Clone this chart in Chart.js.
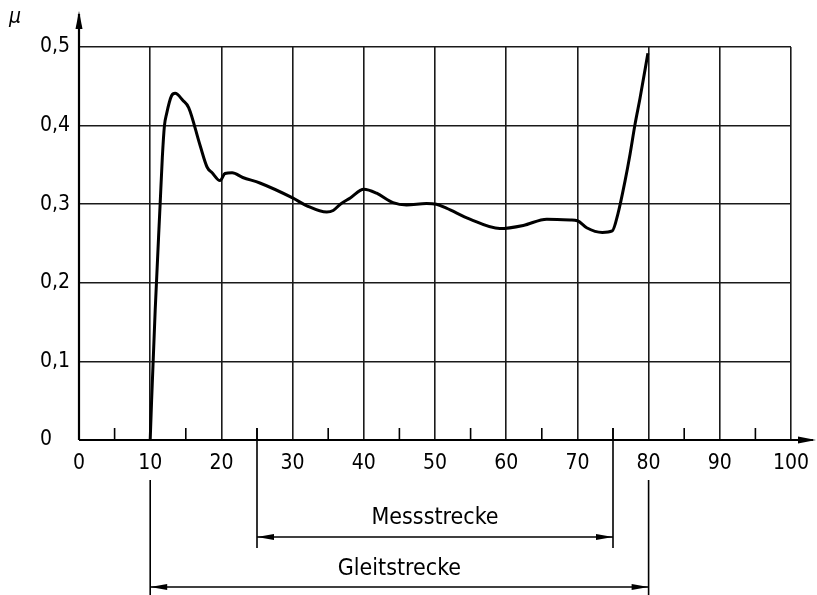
<!DOCTYPE html>
<html>
<head>
<meta charset="utf-8">
<script src="https://cdn.jsdelivr.net/npm/chart.js@4"></script>
<style>
  html, body { margin: 0; background: #fff; }
  #wrap { width: 817px; height: 595px; }
</style>
</head>
<body>
<div id="wrap"><canvas id="muChart"></canvas></div>
<script>
// Gleitweg (x) und Reibungszahl mu (y)
const slipX = [10, 10.2, 10.7, 11.4, 11.7, 12.0, 12.3, 13.0, 13.5, 14.6, 15.4, 17.0, 18.0, 18.7, 19.8, 20.5, 21.5, 23.0, 25.4, 30.0, 32.0, 34.8, 35.7, 36.7, 38.1, 40.0, 41.8, 44.1, 46.0, 48.8, 50.2, 51.6, 54.9, 59.1, 62.4, 65.7, 69.0, 70.0, 71.3, 73.5, 74.9, 75.7, 76.7, 77.4, 78.1, 78.8, 79.9];
const muValues = [0, 0.051, 0.165, 0.301, 0.359, 0.400, 0.415, 0.438, 0.441, 0.432, 0.423, 0.375, 0.347, 0.340, 0.330, 0.339, 0.340, 0.334, 0.327, 0.308, 0.298, 0.290, 0.292, 0.300, 0.308, 0.319, 0.314, 0.302, 0.299, 0.301, 0.300, 0.295, 0.281, 0.269, 0.273, 0.281, 0.280, 0.279, 0.270, 0.264, 0.266, 0.288, 0.330, 0.364, 0.402, 0.435, 0.492];

const xTicks = [0, 10, 20, 30, 40, 50, 60, 70, 80, 90, 100];
const xMinorTicks = [5, 15, 25, 35, 45, 55, 65, 75, 85, 95];
const yTicks = [0, 0.1, 0.2, 0.3, 0.4, 0.5];

// Bemaßungen unter der x-Achse
const dimLabels = ['Messstrecke', 'Gleitstrecke'];
const dimFrom = [25, 10];
const dimTo = [75, 80];

const FONT = '"DejaVu Sans Condensed", "DejaVu Sans", sans-serif';
const INK = '#000';
const GRID = '#1a1a1a';

function arrowHead(ctx, x, y, dx, dy, len, half) {
  // Spitze bei (x,y), Richtung (dx,dy)
  const px = -dy, py = dx;
  ctx.beginPath();
  ctx.moveTo(x, y);
  ctx.lineTo(x - dx * len + px * half, y - dy * len + py * half);
  ctx.lineTo(x - dx * len - px * half, y - dy * len - py * half);
  ctx.closePath();
  ctx.fill();
}

const drawingExtras = {
  id: 'drawingExtras',
  afterDraw(chart) {
    const ctx = chart.ctx;
    const xs = chart.scales.x, ys = chart.scales.y;
    const x0 = xs.getPixelForValue(0);
    const y0 = ys.getPixelForValue(0);
    ctx.save();
    ctx.strokeStyle = INK;
    ctx.fillStyle = INK;

    // Achsen mit Pfeilen
    ctx.lineWidth = 2.2;
    ctx.beginPath();
    ctx.moveTo(x0, y0);
    ctx.lineTo(x0, 14);
    ctx.moveTo(x0, y0);
    ctx.lineTo(chart.width - 4, y0);
    ctx.stroke();
    arrowHead(ctx, x0, 11, 0, -1, 18, 3.5);
    arrowHead(ctx, chart.width - 1, y0, 1, 0, 18, 3.5);

    // Zwischenstriche
    ctx.lineWidth = 1.6;
    ctx.beginPath();
    xMinorTicks.forEach(v => {
      const px = xs.getPixelForValue(v);
      ctx.moveTo(px, y0);
      ctx.lineTo(px, y0 - 12);
    });
    ctx.stroke();

    // mu
    ctx.font = 'italic 21px ' + FONT;
    ctx.textAlign = 'center';
    ctx.textBaseline = 'middle';
    ctx.fillText('\u03BC', 15, 18);

    // Bemaßungen
    const extTop = [y0 - 12, y0 + 40];
    const extBottom = [y0 + 108, y0 + 160];
    const lineY = [y0 + 97, y0 + 147];
    const textY = [y0 + 78, y0 + 129];
    ctx.font = '23px ' + FONT;
    dimLabels.forEach((label, i) => {
      const a = xs.getPixelForValue(dimFrom[i]);
      const b = xs.getPixelForValue(dimTo[i]);
      ctx.lineWidth = 1.6;
      ctx.beginPath();
      ctx.moveTo(a, extTop[i]); ctx.lineTo(a, extBottom[i]);
      ctx.moveTo(b, extTop[i]); ctx.lineTo(b, extBottom[i]);
      ctx.stroke();
      ctx.lineWidth = 1.4;
      ctx.beginPath();
      ctx.moveTo(a, lineY[i]); ctx.lineTo(b, lineY[i]);
      ctx.stroke();
      arrowHead(ctx, a, lineY[i], -1, 0, 17, 3);
      arrowHead(ctx, b, lineY[i], 1, 0, 17, 3);
      ctx.fillText(label, (a + b) / 2, textY[i]);
    });
    ctx.restore();
  }
};

new Chart(document.getElementById('muChart'), {
  type: 'line',
  data: {
    datasets: [{
      data: slipX.map((x, i) => ({ x: x, y: muValues[i] })),
      borderColor: INK,
      borderWidth: 3,
      pointRadius: 0,
      cubicInterpolationMode: 'monotone',
      fill: false
    }]
  },
  options: {
    responsive: true,
    maintainAspectRatio: false,
    animation: false,
    layout: { padding: { left: 40, top: 47, right: 26, bottom: 115 } },
    plugins: { legend: { display: false }, tooltip: { enabled: false } },
    scales: {
      x: {
        type: 'linear',
        min: 0,
        max: 100,
        afterBuildTicks: s => { s.ticks = xTicks.map(v => ({ value: v })); },
        afterFit: s => { s.height = 40; s.paddingLeft = 0; s.paddingRight = 0; },
        ticks: {
          color: INK,
          padding: 11,
          maxRotation: 0,
          font: { family: FONT, size: 21 },
          callback: v => String(v)
        },
        grid: { color: GRID, lineWidth: 1.6, drawTicks: false },
        border: { display: false }
      },
      y: {
        min: 0,
        max: 0.5,
        afterBuildTicks: s => { s.ticks = yTicks.map(v => ({ value: v })); },
        afterFit: s => { s.width = 39; s.paddingTop = 0; s.paddingBottom = 0; },
        ticks: {
          color: INK,
          crossAlign: 'far',
          font: { family: FONT, size: 21 },
          callback: v => v === 0 ? '0' : v.toFixed(1).replace('.', ',')
        },
        grid: { color: GRID, lineWidth: 1.6, drawTicks: false },
        border: { display: false }
      }
    }
  },
  plugins: [drawingExtras]
});
</script>
</body>
</html>
